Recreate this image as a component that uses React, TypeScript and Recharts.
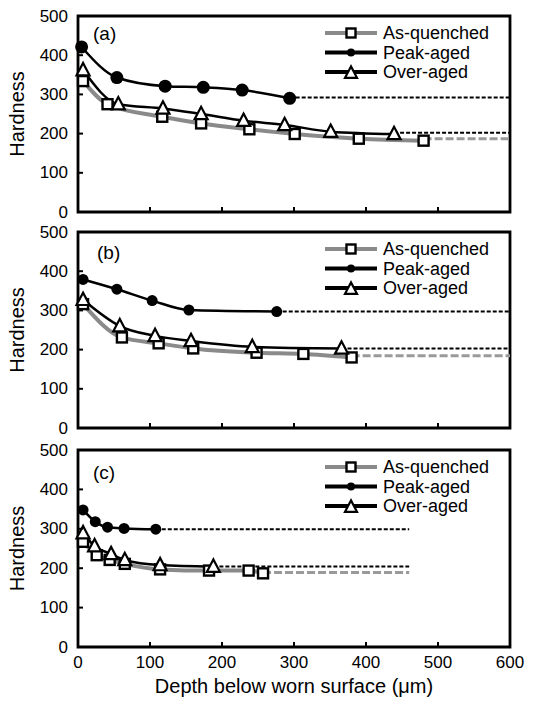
import React from 'react';
import { LineChart, Line, XAxis, YAxis, ReferenceArea, Legend, Label } from 'recharts';

const FONT = '"Liberation Sans", Arial, Helvetica, sans-serif';

const xTicks = [0, 100, 200, 300, 400, 500, 600];
const yTicks = [0, 100, 200, 300, 400, 500];
const seriesNames = ['As-quenched', 'Peak-aged', 'Over-aged'];
const panelLabels = ['(a)', '(b)', '(c)'];
const xTitle = 'Depth below worn surface (\u03bcm)';
const yTitle = 'Hardness';

// Panel (a)
const aqDepthA = [7, 41, 117, 171, 238, 301, 390, 480];
const aqHardA = [334, 275, 243, 226, 211, 199, 187, 182];
const aqTailA = [480, 600, 187];
const paDepthA = [5, 54, 121, 174, 228, 294];
const paHardA = [421, 343, 321, 318, 311, 290];
const paTailA = [294, 600, 292];
const oaDepthA = [7, 56, 118, 171, 230, 287, 351, 439];
const oaHardA = [362, 275, 264, 250, 233, 222, 205, 199];
const oaTailA = [439, 600, 202];

// Panel (b)
const aqDepthB = [7, 61, 112, 160, 248, 313, 380];
const aqHardB = [316, 231, 216, 203, 192, 189, 180];
const aqTailB = [380, 600, 184];
const paDepthB = [7, 54, 103, 154, 276];
const paHardB = [379, 354, 325, 301, 297];
const paTailB = [276, 600, 297];
const oaDepthB = [7, 58, 107, 157, 242, 366];
const oaHardB = [327, 260, 235, 222, 207, 203];
const oaTailB = [366, 600, 203];

// Panel (c)
const aqDepthC = [7, 26, 44, 65, 114, 182, 237, 257];
const aqHardC = [267, 233, 221, 211, 197, 194, 194, 187];
const aqTailC = [257, 460, 189];
const paDepthC = [7, 24, 41, 64, 108];
const paHardC = [348, 318, 304, 301, 299];
const paTailC = [108, 460, 299];
const oaDepthC = [7, 23, 46, 65, 114, 188];
const oaHardC = [289, 256, 236, 221, 208, 204];
const oaTailC = [188, 460, 204];

type Pt = { x: number; y: number };
const zip = (xs: number[], ys: number[]): Pt[] => xs.map((x, i) => ({ x, y: ys[i] }));
const tail = (t: number[]): Pt[] => [{ x: t[0], y: t[2] }, { x: t[1], y: t[2] }];

const GRAY = '#8a8a8a';
const GRAY_DASH = '#9a9a9a';

const SquareMark = ({ cx, cy, s = 10 }: any) => (
  <rect x={cx - s / 2} y={cy - s / 2} width={s} height={s} fill="#fff" stroke="#000" strokeWidth={2.4} />
);
const CircleMark = ({ cx, cy, r = 6 }: any) => <circle cx={cx} cy={cy} r={r} fill="#000" />;
const TriMark = ({ cx, cy, s = 13 }: any) => (
  <polygon
    points={`${cx},${cy - s * 0.55} ${cx - s / 2},${cy + s * 0.4} ${cx + s / 2},${cy + s * 0.4}`}
    fill="#fff"
    stroke="#000"
    strokeWidth={2.2}
    strokeLinejoin="miter"
  />
);

const XTick = (showLabel: boolean) => (p: any) => {
  const { x, y, payload } = p;
  return (
    <g>
      <line x1={x} x2={x} y1={y} y2={y - 5} stroke="#000" strokeWidth={2} />
      {showLabel && (
        <text x={x} y={y + 15} textAnchor="middle" dominantBaseline="central" fontSize={17} fontFamily={FONT} fill="#000">
          {payload.value}
        </text>
      )}
    </g>
  );
};

const YTick = (p: any) => {
  const { x, y, payload } = p;
  return (
    <g>
      <line x1={x} x2={x + 5} y1={y} y2={y} stroke="#000" strokeWidth={2} />
      <text x={x - 10} y={y} textAnchor="end" dominantBaseline="central" fontSize={17} fontFamily={FONT} fill="#000">
        {payload.value}
      </text>
    </g>
  );
};

const LegendContent = () => {
  const rows = [0, 1, 2];
  return (
    <svg width={200} height={70} style={{ overflow: 'visible', display: 'block' }}>
      {rows.map((i) => {
        const cy = 11 + i * 19.5;
        return (
          <g key={i}>
            <line x1={5} x2={57} y1={cy} y2={cy} stroke={i === 0 ? GRAY : '#000'} strokeWidth={4} />
            {i === 0 && <SquareMark cx={31} cy={cy} s={9} />}
            {i === 1 && <CircleMark cx={31} cy={cy} r={4} />}
            {i === 2 && <TriMark cx={31} cy={cy + 1} s={12} />}
            <text x={63} y={cy} dominantBaseline="central" fontSize={18} fontFamily={FONT} fill="#000">
              {seriesNames[i]}
            </text>
          </g>
        );
      })}
    </svg>
  );
};

type PanelProps = {
  top: number;
  height: number;
  xAxisHeight: number;
  label: string;
  labelDx: number;
  labelDy: number;
  aq: Pt[];
  aqT: Pt[];
  pa: Pt[];
  paT: Pt[];
  oa: Pt[];
  oaT: Pt[];
  circleR: number;
  bottom: boolean;
};

const Panel = (pp: PanelProps) => {
  return (
    <div style={{ position: 'absolute', left: 0, top: pp.top, width: 533, height: pp.height }}>
      <LineChart width={533} height={pp.height} margin={{ top: 16, right: 23, bottom: 0, left: 18 }}>
        <XAxis
          type="number"
          dataKey="x"
          domain={[0, 600]}
          ticks={xTicks}
          height={pp.xAxisHeight}
          axisLine={false}
          tickLine={false}
          tickSize={0}
          tickMargin={0}
          tick={XTick(pp.bottom)}
          interval={0}
        >
          {pp.bottom && (
            <Label value={xTitle} position="insideBottom" offset={11} fontSize={20} fontFamily={FONT} fill="#000" />
          )}
        </XAxis>
        <YAxis
          type="number"
          dataKey="y"
          domain={[0, 500]}
          ticks={yTicks}
          width={60}
          axisLine={false}
          tickLine={false}
          tickSize={0}
          tickMargin={0}
          tick={YTick}
          interval={0}
        >
          <Label
            content={(props: any) => {
              const vb = props.viewBox || { y: 16, height: 196 };
              const cy = vb.y + vb.height / 2;
              return (
                <text
                  x={17}
                  y={cy}
                  transform={`rotate(-90, 17, ${cy})`}
                  textAnchor="middle"
                  dominantBaseline="central"
                  fontSize={20}
                  fontFamily={FONT}
                  fill="#000"
                >
                  {yTitle}
                </text>
              );
            }}
          />
        </YAxis>
        <ReferenceArea
          x1={0}
          x2={600}
          y1={0}
          y2={500}
          fill="none"
          fillOpacity={0}
          stroke="#000"
          strokeWidth={2.8}
          ifOverflow="visible"
        >
          <Label
            content={(props: any) => {
              const vb = props.viewBox || { x: 78, y: 16 };
              return (
                <text
                  x={vb.x + pp.labelDx}
                  y={vb.y + pp.labelDy}
                  dominantBaseline="central"
                  fontSize={19}
                  fontFamily={FONT}
                  fill="#000"
                >
                  {pp.label}
                </text>
              );
            }}
          />
        </ReferenceArea>
        {/* As-quenched */}
        <Line data={pp.aq} dataKey="y" type="monotone" stroke={GRAY} strokeWidth={4} dot={false} activeDot={false} legendType="none" isAnimationActive={false} />
        <Line data={pp.aqT} dataKey="y" type="linear" stroke={GRAY_DASH} strokeWidth={3} strokeDasharray="8 3" dot={false} activeDot={false} legendType="none" isAnimationActive={false} />
        {/* Peak-aged */}
        <Line data={pp.pa} dataKey="y" type="monotone" stroke="#000" strokeWidth={2.5} dot={false} activeDot={false} legendType="none" isAnimationActive={false} />
        <Line data={pp.paT} dataKey="y" type="linear" stroke="#000" strokeWidth={2} strokeDasharray="4 2" dot={false} activeDot={false} legendType="none" isAnimationActive={false} />
        {/* Over-aged */}
        <Line data={pp.oa} dataKey="y" type="monotone" stroke="#000" strokeWidth={2.5} dot={false} activeDot={false} legendType="none" isAnimationActive={false} />
        <Line data={pp.oaT} dataKey="y" type="linear" stroke="#000" strokeWidth={2} strokeDasharray="4 2" dot={false} activeDot={false} legendType="none" isAnimationActive={false} />
        {/* markers */}
        <Line
          name={seriesNames[0]}
          data={pp.aq}
          dataKey="y"
          stroke="none"
          activeDot={false}
          isAnimationActive={false}
          dot={(p: any) => <SquareMark key={`s${p.index}`} cx={p.cx} cy={p.cy} s={10} />}
        />
        <Line
          name={seriesNames[2]}
          data={pp.oa}
          dataKey="y"
          stroke="none"
          activeDot={false}
          isAnimationActive={false}
          dot={(p: any) => <TriMark key={`t${p.index}`} cx={p.cx} cy={p.cy} s={13} />}
        />
        <Line
          name={seriesNames[1]}
          data={pp.pa}
          dataKey="y"
          stroke="none"
          activeDot={false}
          isAnimationActive={false}
          dot={(p: any) => <CircleMark key={`c${p.index}`} cx={p.cx} cy={p.cy} r={pp.circleR} />}
        />
        <Legend
          layout="vertical"
          align="center"
          verticalAlign="middle"
          content={LegendContent}
          wrapperStyle={{ position: 'absolute', left: 320, top: 22, width: 200, height: 70 }}
        />
      </LineChart>
    </div>
  );
};

export default function App() {
  return (
    <div style={{ position: 'absolute', left: 0, top: 0, width: 533, height: 704, background: '#fff' }}>
      <Panel
        top={0}
        height={232}
        xAxisHeight={20}
        label={panelLabels[0]}
        labelDx={15}
        labelDy={17}
        aq={zip(aqDepthA, aqHardA)}
        aqT={tail(aqTailA)}
        pa={zip(paDepthA, paHardA)}
        paT={tail(paTailA)}
        oa={zip(oaDepthA, oaHardA)}
        oaT={tail(oaTailA)}
        circleR={6.5}
        bottom={false}
      />
      <Panel
        top={216}
        height={232}
        xAxisHeight={20}
        label={panelLabels[1]}
        labelDx={19}
        labelDy={20}
        aq={zip(aqDepthB, aqHardB)}
        aqT={tail(aqTailB)}
        pa={zip(paDepthB, paHardB)}
        paT={tail(paTailB)}
        oa={zip(oaDepthB, oaHardB)}
        oaT={tail(oaTailB)}
        circleR={5.5}
        bottom={false}
      />
      <Panel
        top={434}
        height={270}
        xAxisHeight={57}
        label={panelLabels[2]}
        labelDx={15}
        labelDy={22}
        aq={zip(aqDepthC, aqHardC)}
        aqT={tail(aqTailC)}
        pa={zip(paDepthC, paHardC)}
        paT={tail(paTailC)}
        oa={zip(oaDepthC, oaHardC)}
        oaT={tail(oaTailC)}
        circleR={5.5}
        bottom={true}
      />
    </div>
  );
}
